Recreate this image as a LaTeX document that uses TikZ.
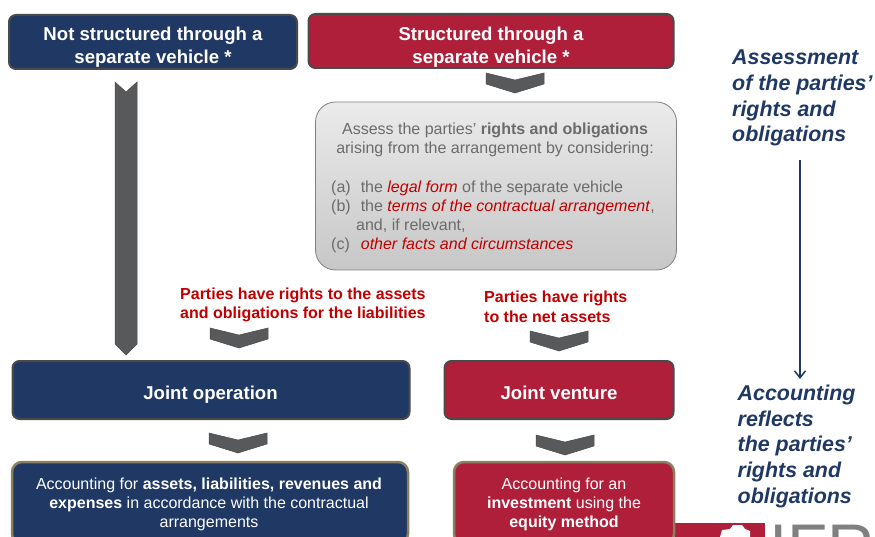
\documentclass[tikz,border=0pt]{standalone}
\usepackage{fontspec}
\setmainfont{Liberation Sans}
\usetikzlibrary{arrows.meta}
\definecolor{navyblue}{HTML}{1F3864}
\definecolor{crimsonred}{HTML}{B01F3A}
\definecolor{chevrongray}{HTML}{58595B}
\definecolor{edgegray}{HTML}{4A4A4A}
\definecolor{edgegold}{HTML}{8A7F5E}
\definecolor{textgray}{HTML}{6B6B6B}
\definecolor{noteblue}{HTML}{1F3864}
\definecolor{notered}{HTML}{C00000}
\tikzset{
  x=1pt,y=-1pt,
  headbox/.style={draw=edgegray,line width=2pt,rounded corners=7pt,inner sep=0pt},
  headtext/.style={text=white,font=\fontsize{18.6}{23.5}\selectfont\bfseries,align=center,inner sep=0pt},
  accbox/.style={draw=edgegold,line width=2.5pt,rounded corners=10pt},
  acctext/.style={text=white,font=\fontsize{16}{19}\selectfont,align=center,inner sep=0pt},
  assessbox/.style={draw=gray,line width=0.8pt,rounded corners=20pt,top color=black!8,bottom color=black!22},
  rednote/.style={text=notered,font=\fontsize{16}{19.5}\selectfont\bfseries,align=left,anchor=west,inner sep=0pt},
  sidenote/.style={text=noteblue,font=\fontsize{21.4}{25.6}\selectfont\bfseries\itshape,align=left,anchor=north west,inner sep=0pt},
  graytext/.style={text=textgray,font=\fontsize{16}{19}\selectfont,anchor=west,inner sep=0pt},
  chevron/.style={fill=chevrongray,draw=edgegray,line width=0.5pt}
}
\newcommand{\chevronat}[2]{\draw[chevron] (#1-29,#2) -- (#1,#2+7) -- (#1+29,#2) -- (#1+29,#2+11) -- (#1,#2+20) -- (#1-29,#2+11) -- cycle;}
\begin{document}
\begin{tikzpicture}
\useasboundingbox (0,0) rectangle (875,537);
% Logo corner
\fill[crimsonred] (675,523) rectangle (765,537);
\fill[white] (720,537) -- (722,530) -- (730,529) -- (733,525) -- (742,525) -- (745,529) -- (750,531) -- (750,537) -- cycle;
\begin{scope}
\clip (765,515) rectangle (875,537);
\node[text=gray,font=\fontsize{66}{66}\selectfont,anchor=base west,inner sep=0pt] (logo) at (769,570) {IFR};
\end{scope}
% Top boxes
\node[headbox,fill=navyblue,minimum width=288pt,minimum height=54pt] (notsep) at (153,42) {};
\node[headtext] (notseptext) at (153,47) {Not structured through a\\separate vehicle *};
\node[headbox,fill=crimsonred,minimum width=365pt,minimum height=54pt] (sep) at (491,41) {};
\node[headtext] (septext) at (491,47) {Structured through a\\separate vehicle *};
% Assessment box
\node[assessbox,minimum width=361pt,minimum height=168pt] (assess) at (496,186) {};
\node[text=textgray,font=\fontsize{16}{19}\selectfont,align=center,inner sep=0pt] (assesstitle) at (495,140) {Assess the parties’ \textbf{rights and obligations}\\arising from the arrangement by considering:};
\node[graytext] (ia) at (331,188) {(a)\hspace{10pt}the \textcolor{notered}{\textit{legal form}} of the separate vehicle};
\node[graytext] (ib) at (331,207) {(b)\hspace{10pt}the \textcolor{notered}{\textit{terms of the contractual arrangement}},};
\node[graytext] (ibb) at (356,226) {and, if relevant,};
\node[graytext] (ic) at (331,245) {(c)\hspace{11pt}\textcolor{notered}{\textit{other facts and circumstances}}};
% Chevrons
\chevronat{515}{73}
\chevronat{239}{328}
\chevronat{559}{331}
\chevronat{238}{433}
\chevronat{565}{435}
\draw[chevron] (115,82) -- (126,92) -- (137,82) -- (137,344) -- (126,355) -- (115,344) -- cycle;
% Red notes
\node[rednote] (rightsnote) at (180,305) {Parties have rights to the assets\\and obligations for the liabilities};
\node[rednote] (netnote) at (484,307) {Parties have rights\\to the net assets};
% Lower boxes
\node[headbox,fill=navyblue,minimum width=397pt,minimum height=58pt] (jointop) at (211,390) {};
\node[headtext] (jointoptext) at (210.5,395) {Joint operation};
\node[headbox,fill=crimsonred,minimum width=229pt,minimum height=58pt] (jointven) at (559,390) {};
\node[headtext] (jointventext) at (559,393) {Joint venture};
\node[accbox,fill=navyblue,minimum width=396pt,minimum height=82pt] (accop) at (210,503) {};
\node[accbox,fill=crimsonred,minimum width=220pt,minimum height=82pt] (accven) at (564,503) {};
\node[acctext] (acctextop) at (209,504) {Accounting for \textbf{assets, liabilities, revenues and}\\\textbf{expenses} in accordance with the contractual\\arrangements};
\node[acctext] (acctextven) at (564,504) {Accounting for an\\\textbf{investment} using the\\\textbf{equity method}};
% Side notes
\node[sidenote] (sidetop) at (732,50) {Assessment\\of the parties’\\rights and\\obligations};
\node[sidenote] (sidebot) at (737.5,385) {Accounting\\reflects\\the parties’\\rights and\\obligations};
\coordinate (arrowtop) at (800,160);
\coordinate (arrowend) at (800,379);
\draw[-{Straight Barb[length=7pt,width=11pt]},noteblue,line width=1.5pt] (arrowtop) -- (arrowend);
\end{tikzpicture}
\end{document}
